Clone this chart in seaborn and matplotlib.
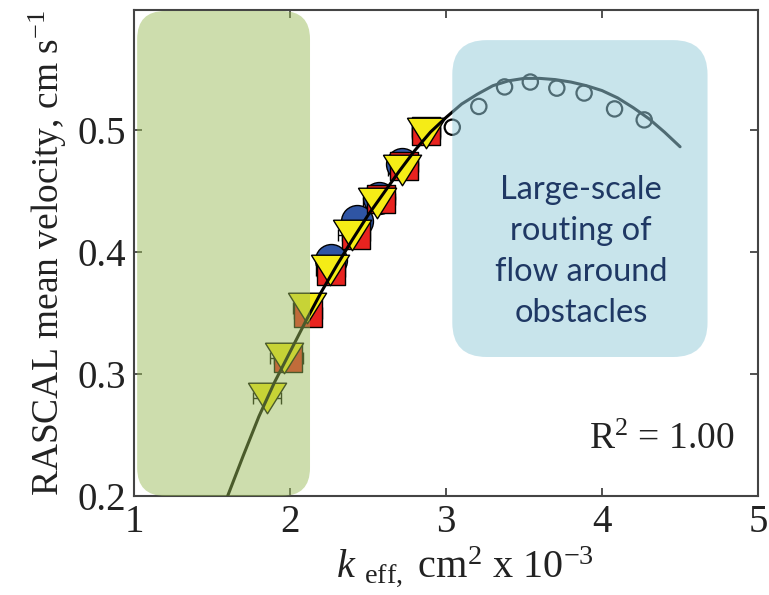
import numpy as np
import pandas as pd
import matplotlib
matplotlib.use("Agg")
import matplotlib.pyplot as plt
from matplotlib.patches import FancyBboxPatch
import seaborn as sns

# ---- data ---------------------------------------------------------------
# fitted response curve
fit_k = [1.6, 1.7, 1.8, 1.9, 2.0, 2.1, 2.2, 2.3, 2.4, 2.5, 2.6, 2.7, 2.8, 2.9,
         3.0, 3.1, 3.2, 3.3, 3.4, 3.5, 3.6, 3.7, 3.8, 3.9, 4.0, 4.1, 4.2, 4.3,
         4.4, 4.5]
fit_v = [0.200, 0.233, 0.265, 0.293, 0.318, 0.343, 0.367, 0.389, 0.410, 0.430,
         0.448, 0.466, 0.483, 0.498, 0.510, 0.521, 0.529, 0.536, 0.540, 0.542,
         0.542, 0.541, 0.539, 0.536, 0.532, 0.526, 0.518, 0.509, 0.498, 0.486]

# measured runs
circ_k = [2.26, 2.43, 2.57, 2.72]
circ_v = [0.393, 0.425, 0.444, 0.472]

sq_k = [1.99, 2.115, 2.26, 2.42, 2.58, 2.73, 2.87]
sq_v = [0.313, 0.350, 0.384, 0.414, 0.443, 0.470, 0.499]
sq_err = [0.09, 0.09, 0.09, 0.09, 0.09, 0.09, 0.09]

tri_k = [1.85, 1.96, 2.11, 2.255, 2.40, 2.56, 2.72, 2.87]
tri_v = [0.280, 0.313, 0.354, 0.385, 0.414, 0.440, 0.467, 0.497]
tri_err = [0.09, 0.09, 0.09, 0.09, 0.09, 0.09, 0.09, 0.09]

# model extrapolation beyond the measured range
open_k = [3.04, 3.21, 3.375, 3.54, 3.71, 3.885, 4.08, 4.27]
open_v = [0.502, 0.519, 0.535, 0.539, 0.534, 0.530, 0.517, 0.508]

xticks = [1, 2, 3, 4, 5]
yticks = [0.2, 0.3, 0.4, 0.5]
ytick_labels = ["0.2", "0.3", "0.4", "0.5"]

r2_label = "R$^2$ = 1.00"
note = "Large-scale\nrouting of\nflow around\nobstacles"

# ---- style --------------------------------------------------------------
sns.set_style("ticks")
plt.rcParams["font.family"] = ["Liberation Serif", "DejaVu Serif"]
plt.rcParams["mathtext.fontset"] = "custom"
plt.rcParams["mathtext.rm"] = "Liberation Serif"
plt.rcParams["mathtext.it"] = "Liberation Serif:italic"

AX_W, AX_H = 0.8115, 0.8168
fig = plt.figure(figsize=(7.69, 5.95), dpi=100)
ax = fig.add_axes([0.1743, 0.1664, AX_W, AX_H])

fit_df = pd.DataFrame({"k": fit_k, "v": fit_v})
sns.lineplot(data=fit_df, x="k", y="v", ax=ax, color="black", lw=2.2,
             zorder=6, sort=False)

ax.errorbar(sq_k, sq_v, xerr=sq_err, fmt="none", ecolor="black",
            elinewidth=1.0, capsize=4, capthick=1.0, zorder=2)
ax.errorbar(tri_k, tri_v, xerr=tri_err, fmt="none", ecolor="black",
            elinewidth=1.0, capsize=4, capthick=1.0, zorder=2)

sns.scatterplot(x=circ_k, y=circ_v, ax=ax, marker="o", s=23 ** 2,
                color="#2F55A4", edgecolor="black", linewidth=1.0, zorder=3)
sns.scatterplot(x=sq_k, y=sq_v, ax=ax, marker="s", s=19.5 ** 2,
                color="#E8231F", edgecolor="black", linewidth=1.0, zorder=4)
tri_marker = [(-1.0, 0.8), (1.0, 0.8), (0.0, -0.8), (-1.0, 0.8)]
sns.scatterplot(x=tri_k, y=tri_v, ax=ax, marker=tri_marker, s=27.5 ** 2,
                color="#F5EC16", edgecolor="black", linewidth=1.0, zorder=5)
sns.scatterplot(x=open_k, y=open_v, ax=ax, marker="o", s=11 ** 2,
                facecolor="none", edgecolor="black", linewidth=1.6, zorder=5)

# translucent highlight regions (axes-fraction coordinates)
aspect = (AX_W * 769) / (AX_H * 595)
green = FancyBboxPatch((0.005, 0.0), 0.277, 0.998,
                       boxstyle="round,pad=0,rounding_size=0.045",
                       mutation_aspect=aspect, transform=ax.transAxes,
                       facecolor="#99BA58", edgecolor="none", alpha=0.49,
                       zorder=7, clip_on=False)
blue = FancyBboxPatch((0.510, 0.286), 0.409, 0.652,
                      boxstyle="round,pad=0,rounding_size=0.055",
                      mutation_aspect=aspect, transform=ax.transAxes,
                      facecolor="#97CCDB", edgecolor="none", alpha=0.53,
                      zorder=7, clip_on=False)
ax.add_patch(green)
ax.add_patch(blue)

ax.text(0.716, 0.503, note, transform=ax.transAxes, ha="center", va="center",
        fontsize=23.5, color="#1F3864", family=["Lato", "DejaVu Sans"],
        linespacing=1.45, zorder=8)

ax.text(0.962, 0.115, r2_label, transform=ax.transAxes, ha="right",
        va="center", fontsize=27, color="#222222", zorder=8)

ax.set_xlim(1, 5)
ax.set_ylim(0.2, 0.598)
ax.set_xticks(xticks)
ax.set_yticks(yticks)
ax.set_yticklabels(ytick_labels)
ax.tick_params(direction="in", length=6, width=1.2, top=True, right=True,
               labelsize=28, colors="#333333", labelcolor="#222222", pad=6)
for side in ax.spines.values():
    side.set_linewidth(1.5)
    side.set_color("#444444")
    side.set_visible(True)

ax.set_ylabel("RASCAL mean velocity, cm s$^{-1}$", fontsize=27,
              color="#222222", labelpad=6)
ax.set_xlabel(r"$k$ $_{\mathrm{eff},}$ cm$^{2}$ x 10$^{-3}$", fontsize=29,
              color="#222222", labelpad=2)
ax.xaxis.set_label_coords(0.53, -0.10)

fig.savefig("out.png", dpi=100)
